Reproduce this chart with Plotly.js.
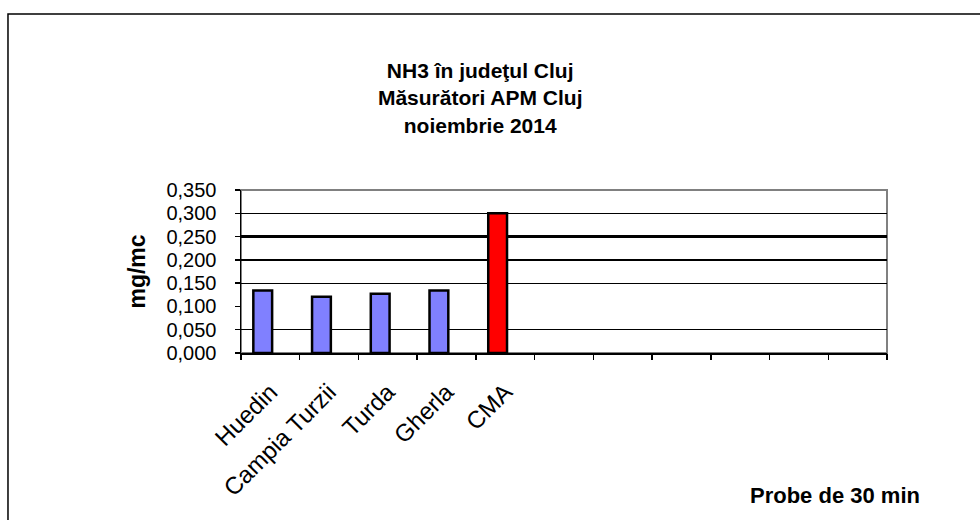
<!DOCTYPE html>
<html>
<head>
<meta charset="utf-8">
<script src="https://cdn.plot.ly/plotly-3.0.1.min.js"></script>
<style>html,body{margin:0;padding:0;background:#fff;}#chart{width:980px;height:520px;}</style>
</head>
<body>
<div id="chart"></div>
<script>
// ---- data ----
const categories = ['Huedin', 'Campia Turzii', 'Turda', 'Gherla', 'CMA'];
const values = [0.134, 0.121, 0.127, 0.134, 0.300];
const barColors = ['#8080FF', '#8080FF', '#8080FF', '#8080FF', '#FF0000'];
const slotCount = 11;            // category slots on the x axis
const yTicks = [0, 0.05, 0.10, 0.15, 0.20, 0.25, 0.30, 0.35];
const thinGrid = [0.05, 0.15, 0.30];
const thickGrid = [0.20, 0.25];
const titleLines = ['NH3 în judeţul Cluj', 'Măsurători APM Cluj', 'noiembrie 2014'];
const yTitle = 'mg/mc';
const xNote = 'Probe de 30 min';

const F = 'Arial, "Liberation Sans", sans-serif';
const xIdx = categories.map((c, i) => i);
const boundaries = [];
for (let i = 0; i <= slotCount; i++) boundaries.push(i - 0.5);
const xr = [-0.5, slotCount - 0.5];
const yr = [0, 0.35];

const traces = [{
  type: 'bar', x: xIdx, y: values,
  width: 0.32, offset: -0.29,
  marker: {color: barColors, line: {color: '#000', width: 2.5}},
  hoverinfo: 'skip', showlegend: false
}, {
  type: 'scatter', x: [null], y: [null], xaxis: 'x2', yaxis: 'y2', showlegend: false, hoverinfo: 'skip'
}, {
  type: 'scatter', x: [null], y: [null], xaxis: 'x2', yaxis: 'y3', showlegend: false, hoverinfo: 'skip'
}];

const layout = {
  width: 980, height: 520,
  margin: {l: 241, r: 93, t: 190, b: 167},
  paper_bgcolor: '#fff', plot_bgcolor: '#fff',
  separators: ',.',
  font: {family: F, color: '#000'},
  title: {
    text: '<b>' + titleLines.join('<br>') + '</b>',
    font: {family: F, size: 21, color: '#000'},
    x: 0.49, xref: 'container', xanchor: 'center',
    y: 0.85, yref: 'container', yanchor: 'top'
  },
  xaxis: {
    type: 'linear', range: xr, tickmode: 'array', tickvals: xIdx, ticktext: categories,
    tickangle: -45, ticks: '', showgrid: false, zeroline: false,
    showline: true, linecolor: '#000', linewidth: 1.5,
    tickfont: {family: F, size: 24, color: '#000'}, ticklabelstandoff: 14
  },
  xaxis2: {
    overlaying: 'x', type: 'linear', range: xr, tickmode: 'array', tickvals: boundaries,
    ticks: 'outside', ticklen: 6, tickwidth: 1.5, tickcolor: '#000',
    showticklabels: false, showgrid: false, zeroline: false, showline: false
  },
  yaxis: {
    range: yr, tickmode: 'array', tickvals: yTicks, tickformat: '.3f',
    ticks: 'outside', ticklen: 5, tickwidth: 1.5, tickcolor: '#000',
    showgrid: false, zeroline: false, showline: true, linecolor: '#000', linewidth: 1.5,
    tickfont: {family: F, size: 20, color: '#000'}, ticklabelstandoff: 14,
    title: {text: '<b>' + yTitle + '</b>', font: {family: F, size: 23, color: '#000'}, standoff: 14}
  },
  yaxis2: {
    overlaying: 'y', range: yr, tickmode: 'array', tickvals: thinGrid,
    showticklabels: false, ticks: '', showgrid: true, gridcolor: '#000', gridwidth: 1.2, zeroline: false
  },
  yaxis3: {
    overlaying: 'y', range: yr, tickmode: 'array', tickvals: thickGrid,
    showticklabels: false, ticks: '', showgrid: true, gridcolor: '#000', gridwidth: 2.2, zeroline: false
  },
  shapes: [
    {type: 'rect', xref: 'paper', yref: 'paper', x0: 0, x1: 1, y0: 0, y1: 1,
     line: {color: '#808080', width: 2}, layer: 'below'},
    {type: 'rect', xref: 'paper', yref: 'paper', x0: -0.3607, x1: 1.2, y0: -1.2, y1: 2.0798,
     line: {color: '#000', width: 1.5}, layer: 'below'}
  ],
  annotations: [{
    text: '<b>' + xNote + '</b>', xref: 'paper', yref: 'paper',
    x: 0.92, y: -0.873, xanchor: 'center', yanchor: 'middle', showarrow: false,
    font: {family: F, size: 22, color: '#000'}
  }]
};

Plotly.newPlot('chart', traces, layout, {staticPlot: true, displayModeBar: false});
</script>
</body>
</html>
